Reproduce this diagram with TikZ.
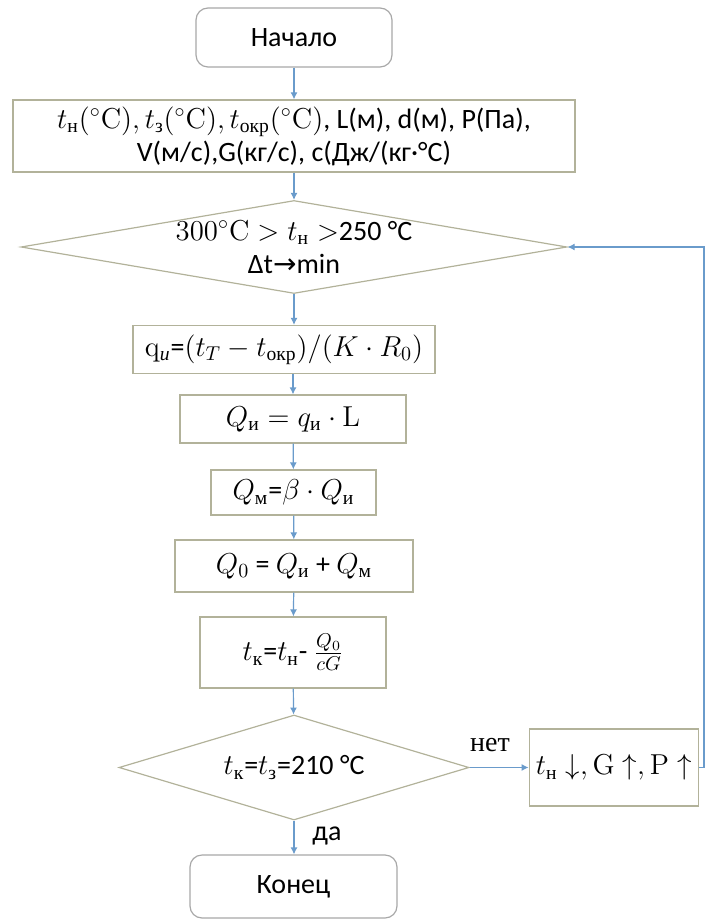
\documentclass[tikz,border=0pt]{standalone}
\usepackage{amsmath}
\usepackage[no-math]{fontspec}
\setmainfont{Carlito}
\newfontfamily\cyrserif{Liberation Serif}
\newfontfamily\symfont{DejaVu Sans}
\usetikzlibrary{arrows.meta,positioning,shapes.geometric}
\definecolor{Frame}{HTML}{B2B29A}
\definecolor{Round}{HTML}{A8A8A8}
\definecolor{Link}{HTML}{6A9BCB}
\newcommand{\cs}[1]{\text{\cyrserif #1}}
\newcommand{\csi}[1]{\text{\cyrserif\itshape #1}}

\begin{document}
\begin{tikzpicture}[
  x=0.5pt,y=-0.5pt,
  font=\fontsize{14}{16.5}\selectfont,
  term/.style={rounded corners=6pt,draw=Round,line width=0.6pt,align=center},
  box/.style={draw=Frame,line width=0.6pt,inner sep=2pt,align=center},
  dia/.style={diamond,draw=Frame,line width=0.6pt,inner sep=0pt,align=center},
  arrow/.style={-{Latex[length=3.5pt,width=3.5pt]},line width=0.6pt,draw=Link}
]
\useasboundingbox (0,0) rectangle (705,919);
\node[term,minimum width=98pt,minimum height=29.5pt] (start) at (294,37.5) {Начало};
\node[box,minimum width=281pt,minimum height=36pt] (input) at (294,136)
  {$t_{\cs{н}}(^\circ\mathrm{C}),t_{\cs{з}}(^\circ\mathrm{C}),t_{\cs{окр}}(^\circ\mathrm{C})$, L(м), d(м), P(Па),\\
   V(м/с),G(кг/с), c(Дж/(кг·°C)};
\node[dia,minimum width=273pt,minimum height=46.5pt,aspect=5.87,inner xsep=-15pt,inner ysep=-6pt] (range) at (294,247)
  {$300^\circ\mathrm{C} > t_{\cs{н}} >$250 °C\\Δt{\symfont →}min};
\node[box,minimum width=151pt,minimum height=24pt] (qloss) at (284,349.5)
  {$\mathrm{q}_{\csi{и}}$=$(t_T-t_{\cs{окр}})/(K\cdot R_0)$};
\node[box,minimum width=113pt,minimum height=24pt] (Qins) at (293,419)
  {$Q_{\cs{и}}=q_{\cs{и}}\cdot\mathrm{L}$};
\node[box,minimum width=82.5pt,minimum height=22.5pt] (Qloc) at (293.5,492.5)
  {$Q_{\cs{м}}$=$\beta\cdot Q_{\cs{и}}$};
\node[box,minimum width=119pt,minimum height=26pt] (Qsum) at (294,566)
  {$Q_0$ = $Q_{\cs{и}}$ + $Q_{\cs{м}}$};
\node[box,minimum width=93pt,minimum height=35.5pt] (tend) at (293,652.5)
  {$t_{\cs{к}}$=$t_{\cs{н}}$- $\frac{Q_0}{cG}$};
\node[dia,minimum width=175pt,minimum height=52.5pt,aspect=3.33] (check) at (294,767.5)
  {$t_{\cs{к}}$=$t_{\cs{з}}$=210 °C};
\node[box,right=29.5pt of check,minimum width=84.5pt,minimum height=38.5pt] (adjust)
  {$t_{\cs{н}}\downarrow,\mathrm{G}\uparrow,\mathrm{P}\uparrow$};
\node[term,minimum width=103.5pt,minimum height=31.5pt] (stop) at (293.5,886.5) {Конец};
\node[font=\fontsize{14}{16.5}\cyrserif] (no) at (490,745) {нет};
\node (yes) at (327,836) {да};
\coordinate (back) at (704,767.5);

\draw[arrow] (start) -- (input);
\draw[arrow] (input) -- (range);
\draw[arrow] (range.south) -- (range.south |- qloss.north);
\draw[arrow] (Qins.north |- qloss.south) -- (Qins);
\draw[arrow] (Qins) -- (Qloc);
\draw[arrow] (Qloc) -- (Qsum);
\draw[arrow] (Qsum) -- (tend);
\draw[arrow] (tend) -- (check);
\draw[arrow] (check) -- (adjust);
\draw[arrow] (check.south) -- (check.south |- stop.north);
\draw[arrow] (adjust.east) -- (back) |- (range.east);
\end{tikzpicture}
\end{document}
